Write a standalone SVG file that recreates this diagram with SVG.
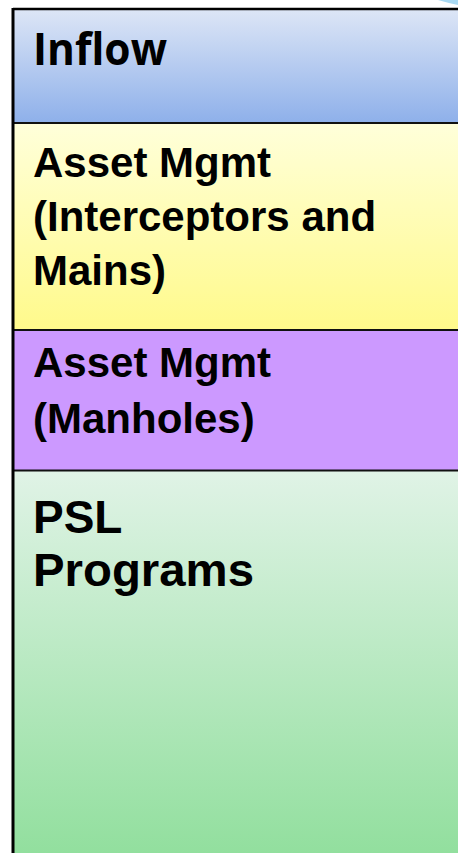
<svg xmlns="http://www.w3.org/2000/svg" width="458" height="853" viewBox="0 0 458 853">
<defs>
<linearGradient id="gBlue" x1="0" y1="0" x2="0" y2="1"><stop offset="0" stop-color="#dde6f6"/><stop offset="1" stop-color="#8eb0ea"/></linearGradient>
<linearGradient id="gYellow" x1="0" y1="0" x2="0" y2="1"><stop offset="0" stop-color="#ffffda"/><stop offset="1" stop-color="#fffa8b"/></linearGradient>
<linearGradient id="gGreen" x1="0" y1="0" x2="0" y2="1"><stop offset="0" stop-color="#e0f3e6"/><stop offset="1" stop-color="#92df9e"/></linearGradient>
<style>
.lbl{font-family:"Liberation Sans",Arial,sans-serif;font-weight:bold;font-size:42px;fill:#000}
.big{font-size:46px}
.div{stroke:#111;stroke-width:2}
</style>
</defs>
<rect width="458" height="853" fill="#ffffff"/>
<path d="M438,0 L458,0 L458,5 Q448,3 438,0 Z" fill="#a9d9f2"/>
<g id="inflow">
<rect x="13" y="9" width="445" height="114" fill="url(#gBlue)"/>
<text x="33" y="65" font-family="'Open Sans','Noto Sans',sans-serif" font-weight="bold" font-size="44" textLength="134" lengthAdjust="spacingAndGlyphs">Inflow</text>
</g>
<g id="asset-mains">
<rect x="13" y="123" width="445" height="207" fill="url(#gYellow)"/>
<text class="lbl" x="33" y="177">Asset Mgmt</text>
<text class="lbl" x="33" y="231">(Interceptors and</text>
<text class="lbl" x="33" y="285">Mains)</text>
</g>
<g id="asset-manholes">
<rect x="13" y="330" width="445" height="141" fill="#cc99ff"/>
<text class="lbl" x="33" y="377">Asset Mgmt</text>
<text class="lbl" x="33" y="433">(Manholes)</text>
</g>
<g id="psl">
<rect x="13" y="471" width="445" height="382" fill="url(#gGreen)"/>
<text class="lbl big" x="33" y="533">PSL</text>
<text class="lbl big" x="33" y="586" textLength="221" lengthAdjust="spacingAndGlyphs">Programs</text>
</g>
<g id="connectors">
<line class="div" x1="13" y1="123" x2="458" y2="123"/>
<line class="div" x1="13" y1="330" x2="458" y2="330"/>
<line class="div" x1="13" y1="470.5" x2="458" y2="470.5" stroke="#222"/>
<line x1="13" y1="9" x2="458" y2="9" stroke="#000" stroke-width="2.5"/>
<line x1="13" y1="8" x2="13" y2="853" stroke="#000" stroke-width="3"/>
</g>
</svg>
